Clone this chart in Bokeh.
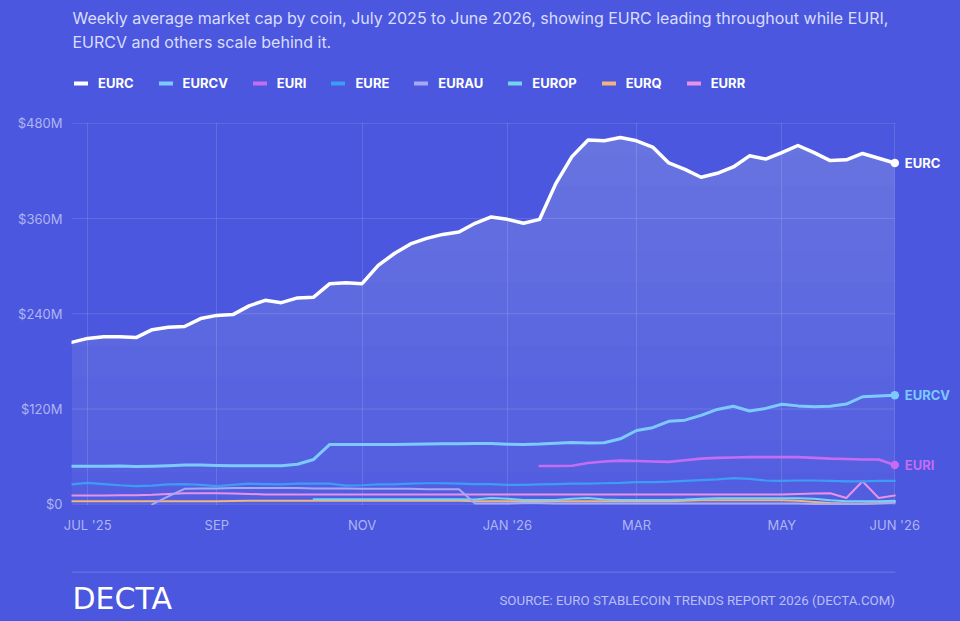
import numpy as np
from bokeh.plotting import figure
from bokeh.layouts import column
from bokeh.models import Range1d, FixedTicker, Label, Legend, LegendItem, BoxAnnotation
from bokeh.core.properties import value
from bokeh.embed import file_html
from bokeh.resources import INLINE

# ---------------- data (weekly, Jul 2025 -> Jun 2026, $M) ----------------
weeks = list(range(52))
eurc = [204, 209, 211, 211, 210, 220, 223, 224, 234, 238, 239, 250, 257, 254, 260, 261,
        278, 279, 278, 301, 316, 328, 335, 340, 343, 354, 362, 359, 354, 359,
        404, 438, 459, 458, 462, 458,
        450, 430, 422, 412, 417, 425, 439, 435, 443, 452, 443, 433, 434, 442, 436, 430]
eurcv = [48, 48, 48, 48.3, 47.5, 47.8, 48.5, 49.5, 49.5, 49, 48.5, 48.5, 48.5, 48.7, 50.5,
         56.5, 75.5,
         75.2, 75.2, 75.3, 75.5, 75.7, 76, 76.2, 76.4, 76.5, 76.5, 75.6, 75.5, 76, 77, 77.8,
         77.2, 77.5, 82.5, 93, 96.5, 104.5, 106, 112, 119.5, 123.5, 117.5, 120.8, 126, 124,
         123, 123.5, 126.3, 135.5, 136.3, 137.5]
euri = [None] * 29 + [48.3, 48.3, 48.5, 52, 54, 55, 54.5, 54, 53.5, 55.5, 57.5, 58.5, 59,
                      59.5, 59.5, 59.5, 59.5, 58.5, 57.5, 57, 56.5, 56.5, 49.5]
eure = [25, 27, 25.5, 24, 23, 23.5, 25, 25.5, 24.5, 23,
        24.5, 26, 25.5, 25, 26, 26, 26, 23.5, 24, 25,
        25, 26, 26.5, 26.5, 26, 25.5, 25.5, 24.5, 24.5, 25,
        25.5, 26, 26, 26.5, 27, 28, 28, 28.5, 29.5, 30.5,
        31.5, 33, 32, 30, 29.5, 30, 30, 29.5, 29, 29,
        29.5, 29.5]
eurau = [None] * 5 + [0, 10, 19.5,
                      20, 20, 20.5, 20.5, 20.5, 20.5, 20.5, 20, 20, 20, 19.5, 19.5, 19.5, 19.5,
                      19, 19, 19,
                      1, 1, 1, 1.5, 1.5, 1, 1, 1, 1, 1, 1, 1, 1, 1, 1, 1, 1, 1, 1, 1, 1,
                      0.5, 0.5, 0.5, 0.5, 1, 2]
europ = [None] * 15 + [6.5, 6.5, 6.5, 6.5, 6.5, 6.5, 6.5, 6.5, 6.5, 6.5, 6, 8, 7, 5.5, 5.5,
                       5.5, 7, 8, 6, 5.5, 5.5, 5.5, 5.5, 6, 7, 7.5, 7.5, 7.5, 7.5, 7.5, 7.5,
                       7, 5, 4, 4, 4, 4.5]
eurq = [3.8, 3.8, 3.8, 3.8, 3.8, 3.8, 3.8, 3.9, 4, 4,
        4.2, 4.5, 4.5, 4.5, 4.5, 4.5, 4.5, 4.5, 4.5, 4.5,
        4.5, 4.5, 4.5, 4.5, 4.5, 4, 3.8, 3.8, 3.8, 3.8,
        3.8, 3.8, 3.8, 3.8, 3.8, 3.8, 3.8, 4, 4.5, 5,
        5, 5, 5, 5, 5, 4.5, 3, 1.5, 1, 1,
        1.5, 3]
eurr = [11, 11, 11, 11.5, 11.5, 12, 13, 14, 14, 14,
        13.5, 13, 12.5, 12.5, 12.5, 12.5, 12.5, 12.5, 12.5, 12.5,
        12.5, 12.5, 12.5, 12.5, 12.5, 12.5, 12.5, 12.5, 12.5, 12.5,
        12.5, 12.5, 12.5, 12.5, 12.5, 12.5, 12.5, 12.5, 12.5, 12.5,
        12.5, 12.5, 12.5, 12.5, 12.5, 13, 13.5, 14, 8, 29,
        8, 11]

coins = ["EURC", "EURCV", "EURI", "EURE", "EURAU", "EUROP", "EURQ", "EURR"]
values = [eurc, eurcv, euri, eure, eurau, europ, eurq, eurr]

x_tick_weeks = [1, 9, 18, 27, 35, 44, 51]
x_tick_labels = ["JUL '25", "SEP", "NOV", "JAN '26", "MAR", "MAY", "JUN '26"]
y_ticks = [0, 120, 240, 360, 480]
y_tick_labels = ["$0", "$120M", "$240M", "$360M", "$480M"]

title_lines = ["Weekly average market cap by coin, July 2025 to June 2026, showing EURC leading throughout while EURI,",
               "EURCV and others scale behind it."]
source_text = "SOURCE: EURO STABLECOIN TRENDS REPORT 2026 (DECTA.COM)"
brand_text = "DECTA"

# ---------------- styles / page geometry ----------------
BG = "#4b57de"
FONT = "Inter"
W = 960
FL, FR = 71, 950          # common frame left/right (page px) for all three panels
colors = ["#ffffff", "#7ccaff", "#c46cf2", "#3f9cf6", "#a6a8f4", "#74d4ef", "#efb47f", "#e892e6"]
widths = [3.5, 3.0, 2.6, 2.2, 2.0, 2.0, 2.0, 2.0]
label_coins = ["EURC", "EURCV", "EURI"]


def blank(height, top):
    f = figure(width=W, height=height, x_range=Range1d(FL, FR), y_range=Range1d(top + height, top),
               output_backend="svg", toolbar_location=None, x_axis_type=None, y_axis_type=None,
               min_border_left=FL, min_border_right=W - FR, min_border_top=0,
               min_border_bottom=0)
    f.background_fill_color = BG
    f.border_fill_color = BG
    f.outline_line_color = None
    f.xgrid.visible = False
    f.ygrid.visible = False
    return f


# ---------------- header: title + legend ----------------
HEAD_H = 108
head = blank(HEAD_H, 0)
for i, line in enumerate(title_lines):
    head.add_layout(Label(x=72, y=17.5 + 24 * i, text=line, text_baseline="middle",
                          text_font=FONT, text_font_size="16px", text_color="#d9ddff"))
swatches = [head.line(x=[np.nan], y=[np.nan], line_color=col, line_width=4, line_cap="round")
            for col in colors]
legend = Legend(items=[LegendItem(label=n, renderers=[r]) for n, r in zip(coins, swatches)],
                orientation="horizontal", location=(74 - FL, HEAD_H - 91), padding=0, margin=0,
                spacing=25, glyph_width=14, glyph_height=14, label_height=14,
                label_standoff=10, border_line_color=None, background_fill_alpha=0,
                label_text_color="white", label_text_font=FONT,
                label_text_font_style="bold", label_text_font_size="13px")
head.add_layout(legend)

# ---------------- main chart ----------------
x = np.array(weeks, dtype=float)
arrs = [np.array([np.nan if v is None else v for v in vals], dtype=float) for vals in values]

p = figure(width=W, height=440,
           x_range=Range1d(0, 54.45), y_range=Range1d(-1.5, 481),
           output_backend="svg", toolbar_location=None,
           min_border_left=FL, min_border_right=W - FR, min_border_top=14, min_border_bottom=43)
p.background_fill_color = BG
p.border_fill_color = BG
p.outline_line_color = None

p.ygrid.grid_line_color = None
p.xgrid.ticker = FixedTicker(ticks=x_tick_weeks)
p.xgrid.grid_line_color = "white"
p.xgrid.grid_line_alpha = 0.13
p.segment(x0=weeks[0], x1=weeks[-1], y0=y_ticks, y1=y_ticks,
          line_color="white", line_alpha=0.13, line_width=1)

c = arrs[0]
p.varea(x=x, y1=0, y2=c, fill_color="white", fill_alpha=0.045)
for lvl in np.linspace(40, 440, 11):
    p.varea(x=x, y1=np.minimum(c, lvl), y2=c, fill_color="white", fill_alpha=0.014)

for name, arr, col, w in reversed(list(zip(coins, arrs, colors, widths))):
    p.line(x=x, y=arr, line_color=col, line_width=w, line_join="round", line_cap="round")

end_x = [weeks[-1]] * len(label_coins)
end_y = [arrs[coins.index(n)][-1] for n in label_coins]
end_c = [colors[coins.index(n)] for n in label_coins]
p.scatter(x=end_x, y=end_y, size=8.5, fill_color=end_c, line_color=None)
p.text(x=end_x, y=end_y, text=label_coins, x_offset=10, text_baseline="middle",
       text_align="left", text_color=end_c, text_font=value(FONT),
       text_font_style="bold", text_font_size="13px")

p.xaxis.ticker = FixedTicker(ticks=x_tick_weeks)
p.xaxis.major_label_overrides = dict(zip(x_tick_weeks, x_tick_labels))
p.yaxis.ticker = FixedTicker(ticks=y_ticks)
p.yaxis.major_label_overrides = dict(zip(y_ticks, y_tick_labels))
for ax in (p.xaxis[0], p.yaxis[0]):
    ax.axis_line_color = None
    ax.major_tick_line_color = None
    ax.minor_tick_line_color = None
    ax.major_tick_out = 0
    ax.major_tick_in = 0
    ax.minor_tick_out = 0
    ax.major_label_text_color = "#aeb5f2"
    ax.major_label_text_font = FONT
    ax.major_label_text_font_size = "13px"
p.xaxis.major_label_standoff = 11
p.yaxis.major_label_standoff = 9

# ---------------- footer ----------------
FOOT_TOP = 548
foot = blank(621 - FOOT_TOP, FOOT_TOP)
foot.add_layout(BoxAnnotation(left=71, right=895, top=571, bottom=572.2,
                              fill_color="white", fill_alpha=0.16, line_color=None))
foot.add_layout(Label(x=72, y=598, text=brand_text, text_baseline="middle",
                      text_font="DejaVu Sans", text_font_size="30px", text_color="white"))
foot.add_layout(Label(x=895, y=600, text=source_text, text_baseline="middle",
                      text_align="right", text_font="Roboto", text_font_size="13.3px",
                      text_color="#b9bff3"))

layout = column(head, p, foot, spacing=0)
html = file_html(layout, INLINE)
html = html.replace("</head>", "<style>html, body { background: %s; }</style></head>" % BG, 1)
open("out.html", "w").write(html)
